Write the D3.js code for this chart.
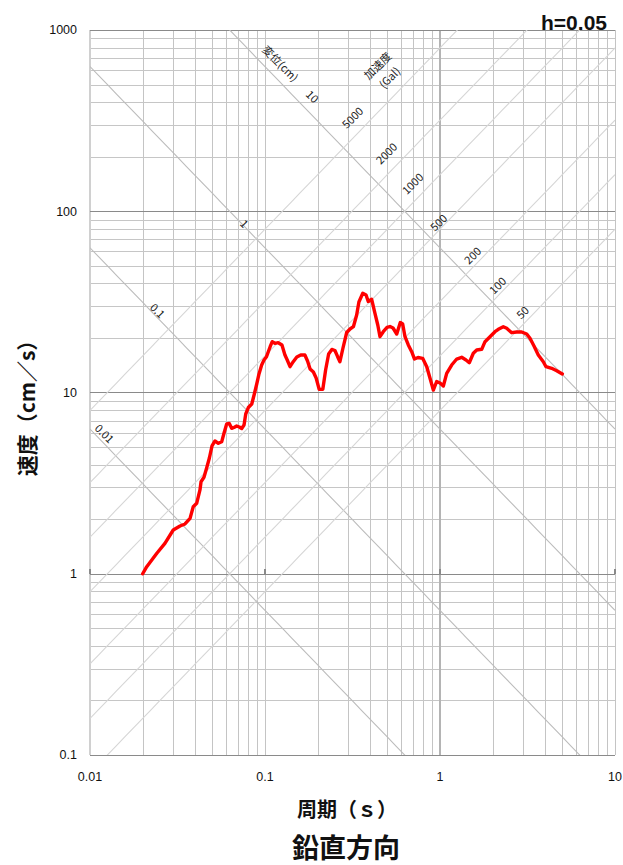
<!DOCTYPE html>
<html>
<head>
<meta charset="utf-8">
<script src="https://cdn.jsdelivr.net/npm/d3@7/dist/d3.min.js"></script>
<style>
  body { margin: 0; background: #ffffff; }
  svg { display: block; }
</style>
</head>
<body>
<svg id="chart" width="623" height="865"></svg>
<script>
// Period axis (s) and velocity axis (cm/s), both logarithmic
const periodTicks = [0.01, 0.1, 1, 10];
const periodTickLabels = ["0.01", "0.1", "1", "10"];
const velocityTicks = [0.1, 1, 10, 100, 1000];
const velocityTickLabels = ["0.1", "1", "10", "100", "1000"];

// Tripartite guide lines: constant displacement (cm) and constant acceleration (Gal)
const displacementLevels = [0.01, 0.1, 1, 10];
const accelerationLevels = [50, 100, 200, 500, 1000, 2000, 5000];

// Guide-line labels anchored at (period, velocity)
const displacementLabelText = ["0.01", "0.1", "1", "10"];
const displacementLabelPeriod = [0.0122, 0.0245, 0.0769, 0.188];
const displacementLabelVelocity = [5.98, 28.5, 86.1, 432];
const accelerationLabelText = ["5000", "2000", "1000", "500", "200", "100", "50"];
const accelerationLabelPeriod = [0.314, 0.491, 0.692, 0.974, 1.524, 2.117, 2.942];
const accelerationLabelVelocity = [331, 210, 143, 87.2, 57.4, 39.2, 27.8];

// Pseudo-velocity response spectrum, vertical component, h = 0.05
const periods = [0.02,0.0211,0.0241,0.0268,0.0299,0.0327,0.0349,0.0373,0.0389,0.0407,
  0.0425,0.0431,0.0448,0.0464,0.0481,0.0498,0.0518,0.0541,0.0566,0.0583,
  0.0604,0.0625,0.0645,0.0665,0.0689,0.0713,0.0736,0.0759,0.0776,0.0803,
  0.0840,0.0869,0.0897,0.0924,0.0957,0.0987,0.102,0.107,0.110,0.114,
  0.119,0.125,0.130,0.134,0.139,0.145,0.152,0.160,0.169,0.175,
  0.181,0.189,0.196,0.204,0.214,0.222,0.231,0.241,0.251,0.260,
  0.268,0.279,0.293,0.306,0.320,0.334,0.344,0.362,0.378,0.389,
  0.407,0.425,0.441,0.454,0.474,0.498,0.518,0.539,0.566,0.593,
  0.612,0.631,0.659,0.689,0.715,0.749,0.796,0.840,0.877,0.916,
  0.957,1.0,1.045,1.092,1.166,1.246,1.330,1.408,1.470,1.550,
  1.621,1.731,1.808,1.931,2.062,2.154,2.300,2.405,2.569,2.744,
  2.930,3.129,3.268,3.444,3.645,3.893,4.034,4.348,4.644,5.0];
const velocities = [1.0,1.094,1.297,1.472,1.743,1.834,1.882,2.022,2.344,2.447,
  2.899,3.220,3.405,3.832,4.351,5.069,5.401,5.245,5.354,5.955,
  6.702,6.745,6.345,6.410,6.534,6.452,6.330,6.618,7.610,8.264,
  8.642,9.81,11.14,12.65,14.18,15.11,15.76,17.89,19.07,18.68,
  18.83,18.29,16.10,15.11,13.88,14.79,15.70,16.10,16.10,14.92,
  13.48,12.98,12.02,10.41,10.41,13.31,16.31,17.27,17.05,15.76,
  14.79,17.60,21.43,22.40,23.07,26.77,31.57,35.26,34.51,31.78,
  32.67,27.35,23.57,20.32,21.65,22.84,23.13,22.69,21.03,24.33,
  23.87,20.32,18.29,16.80,15.30,15.60,15.44,13.88,11.98,10.32,
  11.50,11.28,10.86,12.76,14.18,15.30,15.64,15.11,14.60,16.46,
  17.16,17.31,19.07,20.32,21.65,22.32,23.07,22.61,21.38,21.57,
  21.57,21.03,19.91,18.06,16.10,14.79,13.88,13.60,13.19,12.65];

const svg = d3.select("#chart");
const plotLeft = 90, plotRight = 615, plotTop = 30, plotBottom = 755;

const x = d3.scaleLog().domain([0.01, 10]).range([plotLeft, plotRight]);
const y = d3.scaleLog().domain([0.1, 1000]).range([plotBottom, plotTop]);

svg.append("defs").append("clipPath").attr("id", "plot")
  .append("rect").attr("x", plotLeft).attr("y", plotTop)
  .attr("width", plotRight - plotLeft).attr("height", plotBottom - plotTop);

const isMajor = v => Math.abs(Math.log10(v) - Math.round(Math.log10(v))) < 1e-9;

// Grid
const grid = svg.append("g").attr("shape-rendering", "crispEdges");
const xGrid = x.ticks();
const yGrid = y.ticks();
grid.selectAll(".vx").data(xGrid.filter(v => v !== 1 && v !== 0.01)).join("line")
  .attr("x1", d => Math.round(x(d)) + 0.5).attr("x2", d => Math.round(x(d)) + 0.5)
  .attr("y1", plotTop).attr("y2", plotBottom)
  .attr("stroke", "#c4c4c4").attr("stroke-width", 1);
grid.selectAll(".hy").data(yGrid.filter(v => !isMajor(v))).join("line")
  .attr("y1", d => Math.round(y(d)) + 0.5).attr("y2", d => Math.round(y(d)) + 0.5)
  .attr("x1", plotLeft).attr("x2", plotRight)
  .attr("stroke", "#c6c6c6").attr("stroke-width", 1);
// value axis at the left edge and the emphasised 1 s line
grid.selectAll(".vxm").data([0.01, 1]).join("line")
  .attr("x1", d => Math.round(x(d))).attr("x2", d => Math.round(x(d)))
  .attr("y1", plotTop).attr("y2", plotBottom)
  .attr("stroke", d => d === 1 ? "#b4b4b4" : "#d0d0d0").attr("stroke-width", 2);
grid.selectAll(".hym").data(velocityTicks).join("line")
  .attr("y1", d => Math.round(y(d)) + 0.5).attr("y2", d => Math.round(y(d)) + 0.5)
  .attr("x1", plotLeft).attr("x2", plotRight)
  .attr("stroke", "#8a8a8a").attr("stroke-width", 1);
// tick marks on the category axis that crosses at 1 cm/s
grid.selectAll(".tk").data(periodTicks).join("line")
  .attr("x1", d => Math.round(x(d))).attr("x2", d => Math.round(x(d)))
  .attr("y1", y(1) - 5).attr("y2", y(1))
  .attr("stroke", "#8a8a8a").attr("stroke-width", 2);

// Diagonal guide lines
const twoPi = 2 * Math.PI;
const sweep = d3.range(0, 61).map(i => Math.pow(10, -2 + i * 0.05));
const diag = svg.append("g").attr("clip-path", "url(#plot)");
const lineGen = d3.line().x(d => x(d[0])).y(d => y(d[1]));
diag.selectAll(".disp").data(displacementLevels).join("path")
  .attr("d", D => lineGen(sweep.map(T => [T, twoPi * D / T])))
  .attr("fill", "none").attr("stroke", "#bcbcbc").attr("stroke-width", 1.1);
diag.selectAll(".acc").data(accelerationLevels).join("path")
  .attr("d", A => lineGen(sweep.map(T => [T, A * T / twoPi])))
  .attr("fill", "none").attr("stroke", "#d6d6d6").attr("stroke-width", 1.1);

// Spectrum curve
svg.append("path")
  .datum(periods.map((p, i) => [p, velocities[i]]))
  .attr("d", lineGen)
  .attr("fill", "none").attr("stroke", "#ff0000")
  .attr("stroke-width", 3.4).attr("stroke-linejoin", "round").attr("stroke-linecap", "round");

// Guide-line labels
const labelFont = "'Noto Sans CJK JP', 'Noto Sans', sans-serif";
const dl = svg.append("g").attr("font-family", labelFont).attr("font-size", 11).attr("fill", "#222");
displacementLabelText.forEach((t, i) => {
  dl.append("text")
    .attr("transform", `translate(${x(displacementLabelPeriod[i])},${y(displacementLabelVelocity[i])}) rotate(45)`)
    .attr("text-anchor", "middle").attr("dominant-baseline", "central").text(t);
});
dl.append("text")
  .attr("transform", `translate(${x(0.1234)},${y(658)}) rotate(45)`)
  .attr("text-anchor", "middle").attr("dominant-baseline", "central").text("変位(cm)");
accelerationLabelText.forEach((t, i) => {
  dl.append("text")
    .attr("transform", `translate(${x(accelerationLabelPeriod[i])},${y(accelerationLabelVelocity[i])}) rotate(-45)`)
    .attr("text-anchor", "middle").attr("dominant-baseline", "central").text(t);
});
const accTitle = dl.append("text")
  .attr("transform", `translate(${x(0.4365)},${y(641)}) rotate(-45)`)
  .attr("text-anchor", "middle").attr("dominant-baseline", "central");
accTitle.append("tspan").attr("x", 0).attr("dy", 0).text("加速度");
accTitle.append("tspan").attr("x", 0).attr("dy", 17).text("(Gal)");

// Tick labels
const tickFont = "'Liberation Sans', Arial, sans-serif";
svg.append("g").selectAll("text").data(velocityTicks).join("text")
  .attr("x", plotLeft - 13).attr("y", d => y(d)).attr("dy", "0.35em")
  .attr("text-anchor", "end").attr("font-family", tickFont).attr("font-size", 12.5)
  .attr("fill", "#111").text((d, i) => velocityTickLabels[i]);
svg.append("g").selectAll("text").data(periodTicks).join("text")
  .attr("x", d => x(d)).attr("y", plotBottom + 22).attr("dy", "0.35em")
  .attr("text-anchor", "middle").attr("font-family", tickFont).attr("font-size", 12.5)
  .attr("fill", "#111").text((d, i) => periodTickLabels[i]);

// Titles
const cjk = "'Noto Sans CJK JP', sans-serif";
svg.append("text").attr("x", 607).attr("y", 30)
  .attr("text-anchor", "end").attr("font-family", tickFont).attr("font-size", 21)
  .attr("font-weight", "bold").attr("fill", "#111").text("h=0.05");
svg.append("text").attr("x", 347).attr("y", 808).attr("dominant-baseline", "central")
  .attr("text-anchor", "middle").attr("font-family", cjk).attr("font-size", 20)
  .attr("font-weight", "bold").attr("fill", "#111").text("周期（ｓ）");
svg.append("text").attr("x", 346).attr("y", 846).attr("dominant-baseline", "central")
  .attr("text-anchor", "middle").attr("font-family", cjk).attr("font-size", 27)
  .attr("font-weight", "bold").attr("fill", "#111").text("鉛直方向");
svg.append("text")
  .attr("transform", "translate(26,403) rotate(-90)")
  .attr("dominant-baseline", "central")
  .attr("text-anchor", "middle").attr("font-family", cjk).attr("font-size", 21)
  .attr("font-weight", "bold").attr("fill", "#111").text("速度（cm／s）");
</script>
</body>
</html>
